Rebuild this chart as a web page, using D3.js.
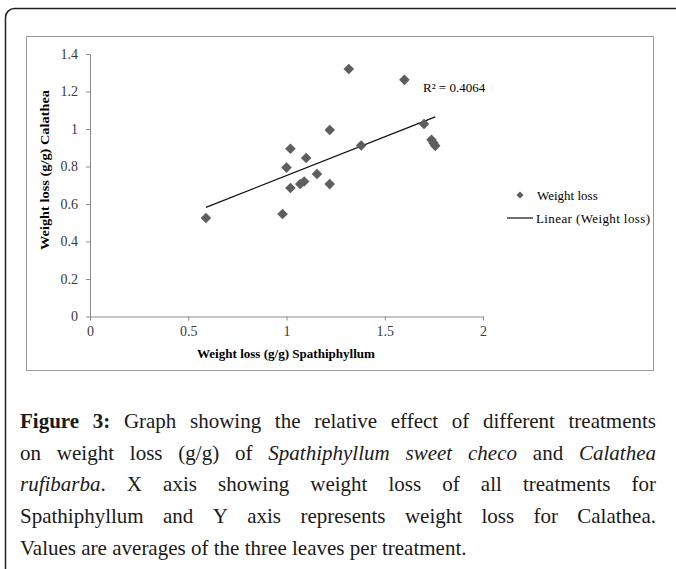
<!DOCTYPE html>
<html>
<head>
<meta charset="utf-8">
<script src="https://cdn.jsdelivr.net/npm/d3@7"></script>
<style>
    body { margin: 0; background: #fff; }
    svg { display: block; }
</style>
</head>
<body>
<svg id="chart"></svg>
<script>
// values (x = Spathiphyllum, y = Calathea)
const spathiphyllum = [0.59, 0.98, 1.02, 1.07, 1.09, 1.00, 1.02, 1.10, 1.155, 1.22, 1.22, 1.38, 1.317, 1.60, 1.70, 1.738, 1.748, 1.757];
const calathea      = [0.525, 0.547, 0.685, 0.707, 0.72, 0.794, 0.895, 0.845, 0.76, 0.706, 0.995, 0.912, 1.32, 1.262, 1.027, 0.942, 0.925, 0.91];

const xTicks = [0, 0.5, 1, 1.5, 2];
const yTicks = [0, 0.2, 0.4, 0.6, 0.8, 1, 1.2, 1.4];
const legendLabels = ["Weight loss", "Linear (Weight loss)"];
const rSquaredLabel = "R² = 0.4064";
const xTitle = "Weight loss (g/g) Spathiphyllum";
const yTitle = "Weight loss (g/g) Calathea";

// caption lines, each a list of [word, style]
const captionLines = [
    [["Figure", "b"], ["3:", "b"], ["Graph"], ["showing"], ["the"], ["relative"], ["effect"], ["of"], ["different"], ["treatments"]],
    [["on"], ["weight"], ["loss"], ["(g/g)"], ["of"], ["Spathiphyllum", "i"], ["sweet", "i"], ["checo", "i"], ["and"], ["Calathea", "i"]],
    [["rufibarba", "i"], ["."], ["X"], ["axis"], ["showing"], ["weight"], ["loss"], ["of"], ["all"], ["treatments"], ["for"]],
    [["Spathiphyllum"], ["and"], ["Y"], ["axis"], ["represents"], ["weight"], ["loss"], ["for"], ["Calathea."]],
    [["Values"], ["are"], ["averages"], ["of"], ["the"], ["three"], ["leaves"], ["per"], ["treatment."]]
];

const W = 676, H = 569;
const serif = "'Liberation Serif', 'Times New Roman', serif";

const svg = d3.select("#chart").attr("width", W).attr("height", H);

// outer frame and chart box
svg.append("rect")
    .attr("x", 5.5).attr("y", 8.5).attr("width", 720).attr("height", 620)
    .attr("rx", 9)
    .attr("fill", "none").attr("stroke", "#222").attr("stroke-width", 1.5);

svg.append("rect")
    .attr("x", 26.5).attr("y", 36.5).attr("width", 627).attr("height", 334)
    .attr("fill", "none").attr("stroke", "#9a9a9a").attr("stroke-width", 1);

const x = d3.scaleLinear().domain([0, 2]).range([90, 483]);
const y = d3.scaleLinear().domain([0, 1.4]).range([316.5, 54]);

const xAxis = svg.append("g")
    .attr("transform", `translate(0, ${y(0)})`)
    .call(d3.axisBottom(x).tickValues(xTicks).tickFormat(d => String(d))
        .tickSizeInner(4).tickSizeOuter(0).tickPadding(6));

const yAxis = svg.append("g")
    .attr("transform", `translate(${x(0)}, 0)`)
    .call(d3.axisLeft(y).tickValues(yTicks).tickFormat(d => String(d))
        .tickSizeInner(4).tickSizeOuter(0).tickPadding(8));

[xAxis, yAxis].forEach(a => {
    a.select(".domain").attr("stroke", "#8a8a8a");
    a.selectAll(".tick line").attr("stroke", "#8a8a8a");
    a.selectAll(".tick text")
        .attr("fill", "#3a3a3a")
        .style("font-family", serif)
        .style("font-size", "14px");
});

// axis titles
svg.append("text")
    .attr("x", 286).attr("y", 358)
    .attr("text-anchor", "middle")
    .attr("textLength", 178).attr("lengthAdjust", "spacingAndGlyphs")
    .style("font-family", serif).style("font-size", "13px").style("font-weight", "bold")
    .text(xTitle);

svg.append("text")
    .attr("transform", "translate(49, 170) rotate(-90)")
    .attr("text-anchor", "middle")
    .attr("textLength", 160).attr("lengthAdjust", "spacingAndGlyphs")
    .style("font-family", serif).style("font-size", "13px").style("font-weight", "bold")
    .text(yTitle);

// trend line (least squares from the points)
const mx = d3.mean(spathiphyllum), my = d3.mean(calathea);
const sxy = d3.sum(spathiphyllum, (v, i) => (v - mx) * (calathea[i] - my));
const sxx = d3.sum(spathiphyllum, v => (v - mx) * (v - mx));
const slope = sxy / sxx, intercept = my - slope * mx;
const [x0, x1] = d3.extent(spathiphyllum);

svg.append("line")
    .attr("x1", x(x0)).attr("y1", y(intercept + slope * x0))
    .attr("x2", x(x1)).attr("y2", y(intercept + slope * x1))
    .attr("stroke", "#111").attr("stroke-width", 1.3);

// points as diamonds
const diamond = d3.symbol(d3.symbolSquare, 56);
svg.append("g").selectAll("path")
    .data(spathiphyllum.map((v, i) => [v, calathea[i]]))
    .join("path")
    .attr("d", diamond)
    .attr("transform", d => `translate(${x(d[0])}, ${y(d[1])}) rotate(45)`)
    .attr("fill", "#5e5e5e");

svg.append("text")
    .attr("x", 423).attr("y", 92)
    .style("font-family", serif).style("font-size", "13px")
    .text(rSquaredLabel);

// legend
const legend = svg.append("g").style("font-family", serif).style("font-size", "13px");
legend.append("path")
    .attr("d", d3.symbol(d3.symbolSquare, 26))
    .attr("transform", "translate(520, 195) rotate(45)")
    .attr("fill", "#5e5e5e");
legend.append("text").attr("x", 537).attr("y", 199.5).text(legendLabels[0]);
legend.append("line")
    .attr("x1", 507).attr("x2", 533).attr("y1", 218).attr("y2", 218)
    .attr("stroke", "#111").attr("stroke-width", 1.2);
legend.append("text").attr("x", 536).attr("y", 222.5)
    .attr("textLength", 114).attr("lengthAdjust", "spacing")
    .text(legendLabels[1]);

// caption, justified word by word
const cap = svg.append("g").style("font-family", serif).style("font-size", "21px").attr("fill", "#1a1a1a");
const capLeft = 20, capRight = 656, capTop = 428, capStep = 31.7;

captionLines.forEach((words, li) => {
    const nodes = words.map(([w, s]) => cap.append("text")
        .attr("y", capTop + li * capStep)
        .style("font-weight", s === "b" ? "bold" : null)
        .style("font-style", s === "i" ? "italic" : null)
        .text(w));
    const widths = nodes.map(t => t.node().getComputedTextLength());
    const last = li === captionLines.length - 1;
    // "rufibarba." has its period glued on
    const glue = words.map((w, i) => i > 0 && w[0] === ".");
    const gaps = glue.filter(g => !g).length - 1;
    const gap = last ? 5.3 : (capRight - capLeft - d3.sum(widths)) / gaps;
    let cx = capLeft;
    nodes.forEach((t, i) => {
        if (i > 0) cx += glue[i] ? 0 : gap;
        t.attr("x", cx);
        cx += widths[i];
    });
});
</script>
</body>
</html>
